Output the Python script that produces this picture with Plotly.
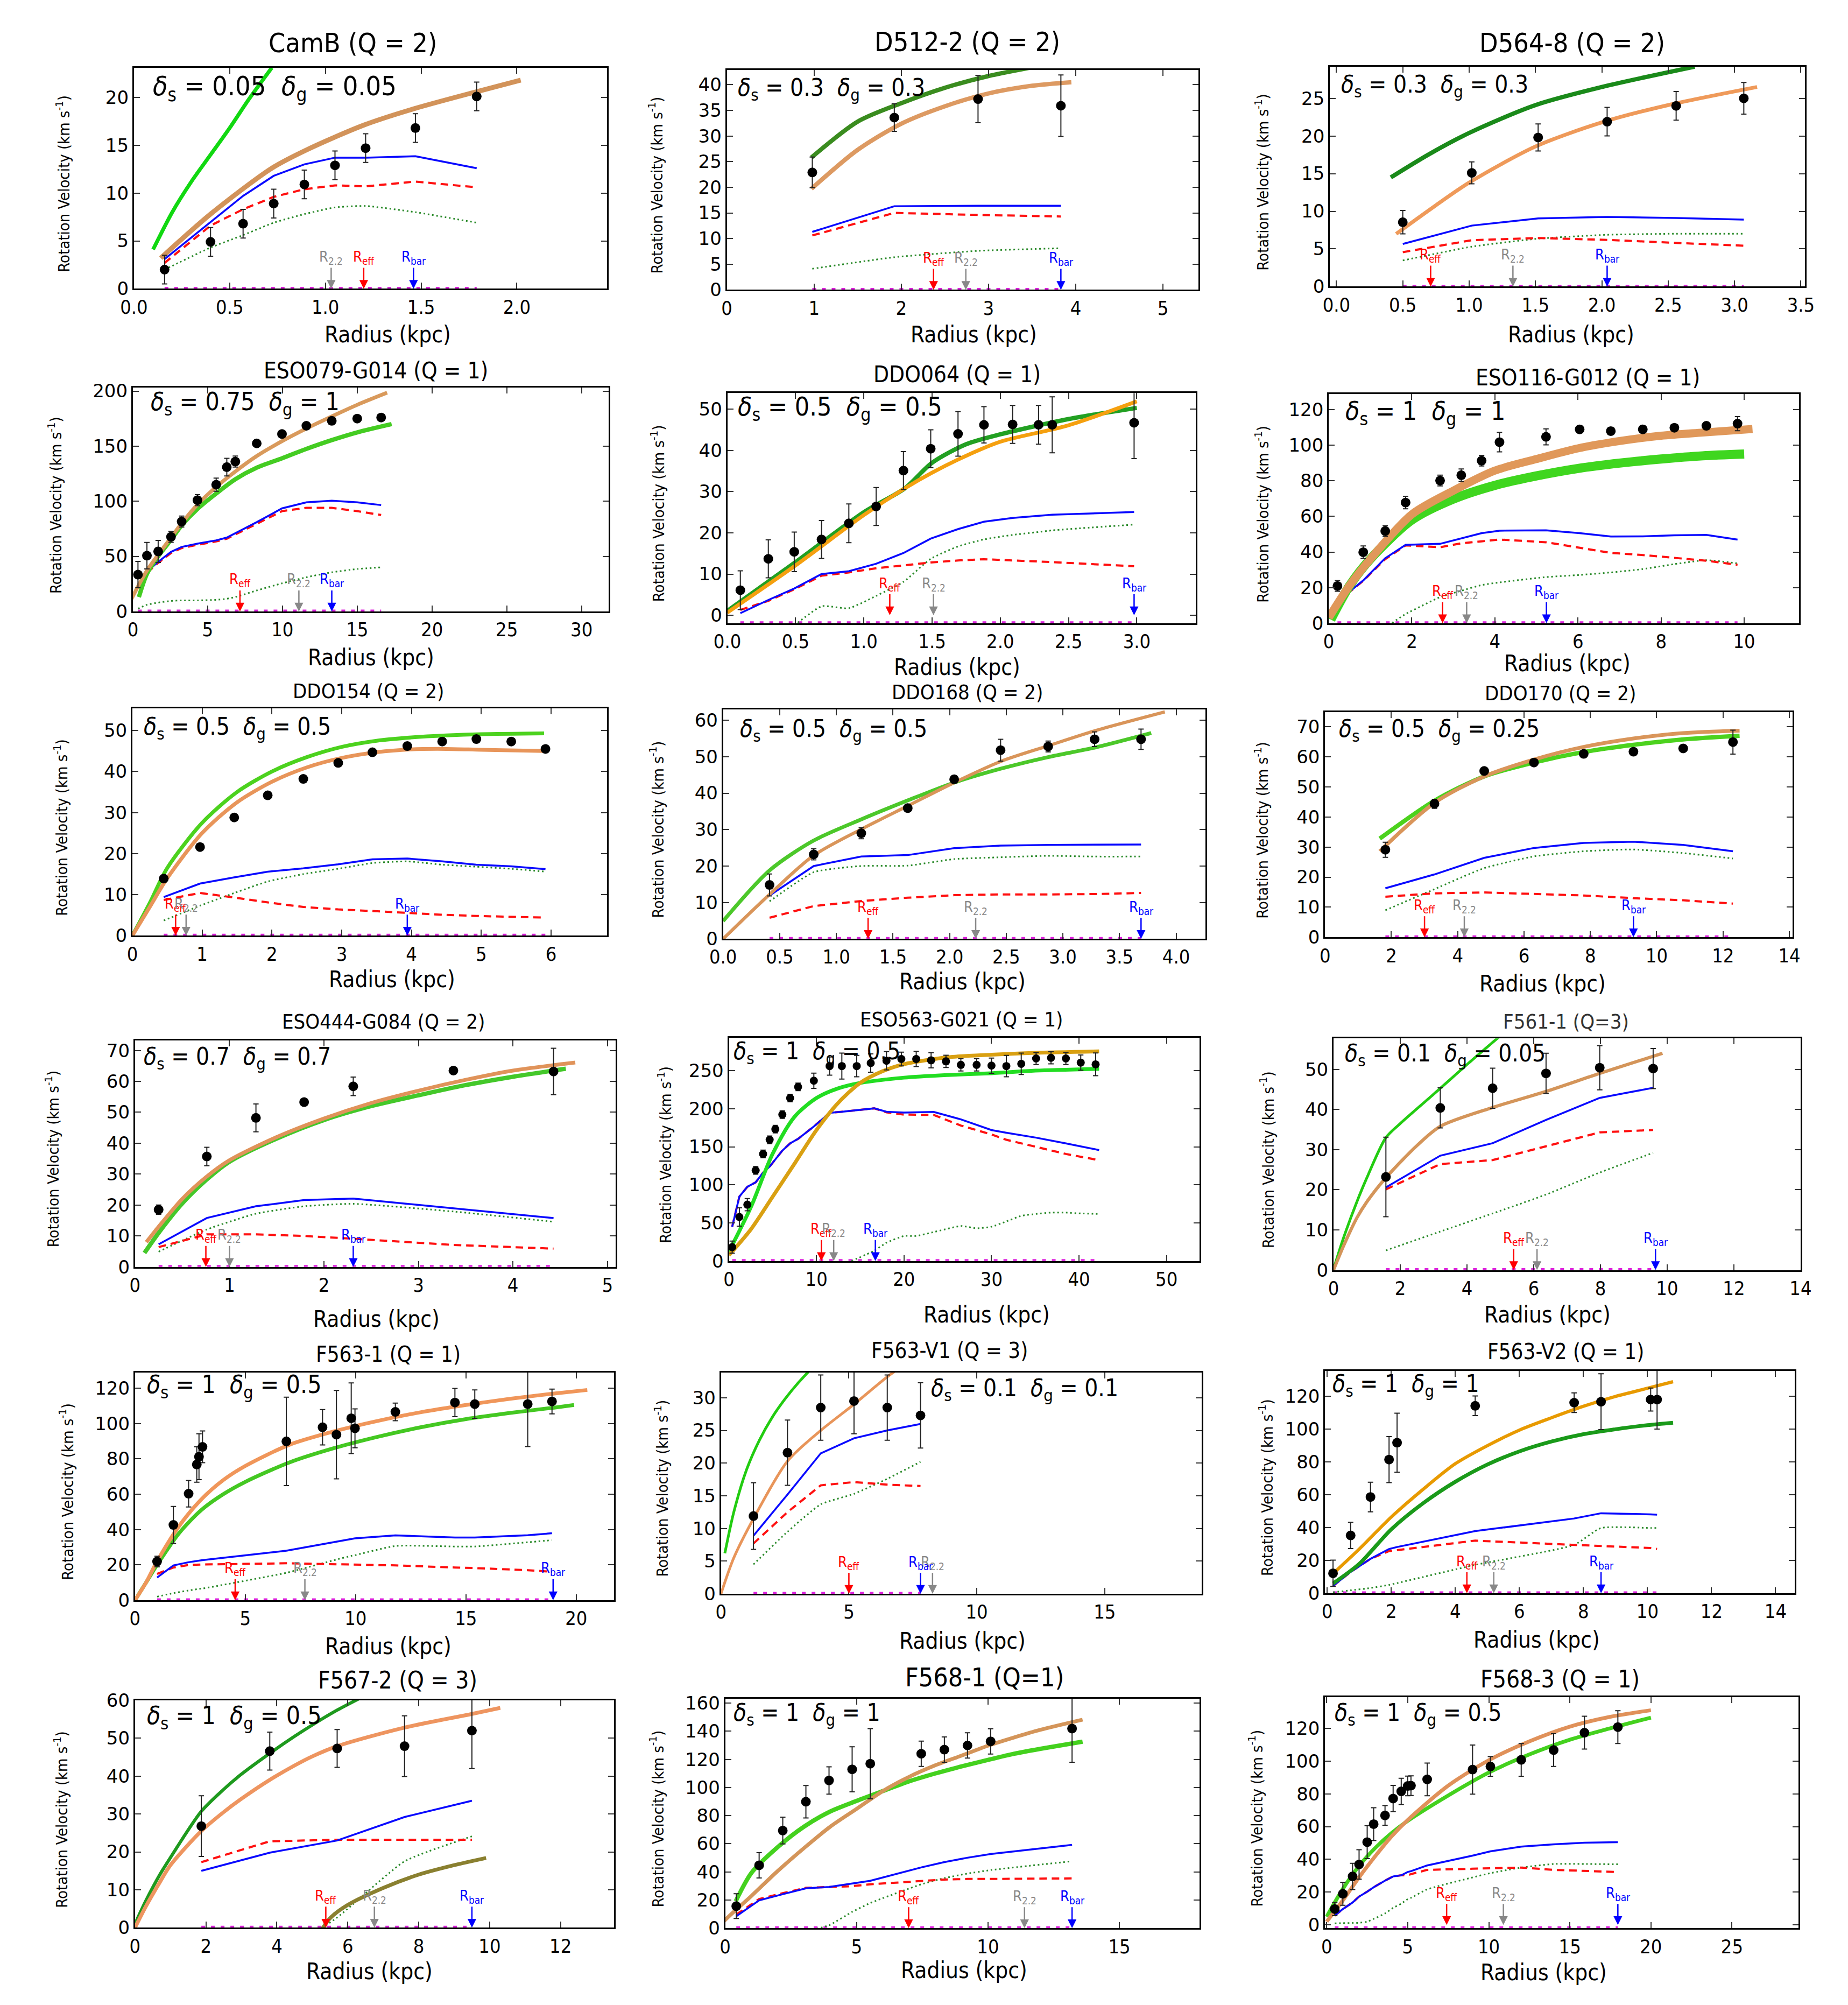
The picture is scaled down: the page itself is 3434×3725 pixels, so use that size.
import plotly.graph_objects as go

W, H = 3434, 3725

# ======================= DATA =======================
# ---- CamB ----
camb_r = [0.16, 0.40, 0.57, 0.73, 0.89, 1.05, 1.21, 1.47, 1.79]
camb_v = [2.0, 4.9, 6.8, 8.9, 10.9, 12.9, 14.7, 16.8, 20.1]
camb_err = [1.5, 1.5, 1.5, 1.5, 1.5, 1.5, 1.5, 1.5, 1.5]
camb_bary = [3.1, 7.0, 9.7, 11.8, 13.0, 13.7, 13.7, 13.85, 12.6]
camb_star = [2.7, 6.6, 8.3, 9.6, 10.4, 10.8, 10.7, 11.2, 10.6]
camb_gas = [2.0, 4.3, 5.6, 6.9, 7.8, 8.5, 8.65, 8.0, 6.9]
camb_fa_r = [0.14, 0.40, 0.72, 0.90, 1.20, 1.46, 1.79, 2.02]
camb_fa_v = [3.2, 7.8, 12.6, 14.5, 17.1, 18.8, 20.6, 21.8]
camb_fb_r = [0.10, 0.20, 0.30, 0.40, 0.50, 0.60, 0.72]
camb_fb_v = [4.1, 8.0, 11.2, 14.0, 16.8, 19.8, 23.1]
camb_marks = [1.20, 1.03, 1.46]          # R_eff, R_2.2, R_bar

# ---- D512-2 ----
d512_r = [0.98, 1.92, 2.88, 3.83]
d512_v = [22.9, 33.6, 37.2, 35.9]
d512_err = [3.0, 2.7, 4.6, 6.0]
d512_bary = [11.3, 16.3, 16.4, 16.4]
d512_star = [10.6, 15.0, 14.6, 14.3]
d512_gas = [4.1, 6.35, 7.6, 8.1]
d512_fa_r = [0.97, 1.5, 2.0, 2.5, 3.0, 3.5, 3.95]
d512_fa_v = [19.7, 27.3, 32.4, 35.8, 38.3, 39.8, 40.5]
d512_fb_r = [0.97, 1.5, 2.0, 2.5, 3.0, 3.5, 3.9]
d512_fb_v = [25.8, 32.8, 36.4, 39.4, 41.7, 43.4, 44.6]
d512_marks = [2.37, 2.74, 3.83]

# ---- D564-8 ----
d564_r = [0.50, 1.02, 1.52, 2.04, 2.56, 3.07]
d564_v = [8.55, 15.1, 19.8, 21.9, 24.0, 25.0]
d564_err = [1.55, 1.45, 1.8, 1.9, 1.9, 2.1]
d564_bary = [5.66, 8.1, 9.05, 9.25, 9.1, 8.9]
d564_star = [4.57, 6.16, 6.45, 6.2, 5.8, 5.43]
d564_gas = [3.47, 5.3, 6.36, 6.88, 7.02, 7.02]
d564_fa_r = [0.45, 0.75, 1.0, 1.5, 2.0, 2.5, 3.17]
d564_fa_v = [7.0, 10.8, 13.8, 18.6, 21.8, 24.1, 26.5]
d564_fb_r = [0.41, 0.7, 1.0, 1.5, 2.0, 2.7]
d564_fb_v = [14.5, 17.6, 20.4, 24.1, 26.5, 29.2]
d564_marks = [0.71, 1.33, 2.04]

# ---- ESO079-G014 ----
eso079_r = [0.34, 0.94, 1.69, 2.55, 3.26, 4.32, 5.57, 6.28, 6.85, 8.28, 9.97, 11.6, 13.3, 15.0, 16.6]
eso079_v = [33.4, 50.6, 54.4, 67.7, 81.5, 101, 115, 131, 136, 152.5, 161, 168.5, 173, 175, 176]
eso079_err = [12, 12, 10, 5, 5, 5, 6, 8, 5, 3, 3, 2, 2, 2, 2]
eso079_mr = [0.94, 1.69, 2.55, 3.26, 4.32, 5.57, 6.28, 6.85, 8.28, 9.97, 11.6, 13.3, 15.0, 16.6]
eso079_bary = [36, 45, 54, 58.5, 61.5, 64.5, 67, 71, 81, 93.5, 99, 100.5, 99, 96.5]
eso079_star = [35, 44, 53, 57.5, 60.5, 63.5, 66, 70, 79.5, 91, 94, 94, 91, 87.5]
eso079_gas = [2.5, 6, 8, 9.5, 10, 10, 10.5, 11.5, 13, 19, 25.5, 31, 35.5, 38.5, 40]
eso079_fa_r = [-0.26, 0.94, 2.55, 3.26, 4.32, 5.57, 6.85, 8.28, 9.97, 11.6, 13.3, 15.0, 17.0]
eso079_fa_v = [7, 37, 67, 80, 97, 113, 127, 141, 154.5, 166, 177, 187.5, 198.5]
eso079_fb_r = [0.4, 0.94, 1.69, 2.55, 3.26, 4.32, 5.57, 6.85, 8.28, 9.97, 11.6, 13.3, 15.0, 17.3]
eso079_fb_v = [13, 34, 50, 65, 78, 93, 107, 120, 130.5, 139, 147.5, 155.5, 162.5, 170]
eso079_marks = [7.16, 11.1, 13.3]

# ---- DDO064 ----
ddo064_r = [0.095, 0.30, 0.49, 0.69, 0.89, 1.09, 1.29, 1.49, 1.69, 1.88, 2.09, 2.28, 2.38, 2.98]
ddo064_v = [6.1, 13.7, 15.4, 18.4, 22.3, 26.4, 35.1, 40.4, 44.0, 46.2, 46.3, 46.2, 46.2, 46.7]
ddo064_err = [4.7, 4.6, 4.8, 4.6, 4.7, 4.6, 4.6, 4.6, 5.4, 4.4, 4.6, 4.7, 6.8, 8.7]
ddo064_bary = [0.5, 3.7, 6.5, 10.0, 10.7, 12.5, 15.1, 18.6, 20.9, 22.7, 23.6, 24.1, 24.4, 25.05]
ddo064_star = [1.3, 3.5, 6.3, 9.6, 10.4, 11.4, 12.1, 12.8, 13.3, 13.6, 13.3, 13.1, 12.9, 11.9]
ddo064_gas = [-4.4, -6.4, -2.4, 2.2, 1.7, 4.7, 8.1, 13.7, 16.7, 18.4, 19.5, 20.2, 20.6, 22.0]
ddo064_fa_r = [0, 0.5, 1.0, 1.3, 1.5, 1.75, 2.0, 2.5, 3.0]
ddo064_fa_v = [0.66, 12.1, 24.3, 30.8, 34.6, 38.7, 42.1, 46.1, 51.9]
ddo064_fb_r = [0, 0.5, 1.0, 1.3, 1.5, 1.75, 2.0, 2.5, 3.0]
ddo064_fb_v = [1.07, 12.9, 25.0, 30.8, 37.0, 41.5, 43.9, 47.6, 50.3]
ddo064_marks = [1.19, 1.51, 2.98]

# ---- ESO116-G012 ----
eso116_r = [0.21, 0.83, 1.36, 1.85, 2.68, 3.19, 3.68, 4.11, 5.23, 6.04, 6.79, 7.56, 8.32, 9.09, 9.84]
eso116_v = [20.9, 39.9, 51.8, 67.8, 80.2, 83.2, 91.4, 101.8, 104.8, 109.0, 108.0, 109.0, 109.9, 111.0, 112.2]
eso116_err = [3, 3.5, 3, 3.5, 3, 3.5, 3, 5.5, 4.5, 2, 2, 2, 2, 2, 4]
eso116_bary = [12.2, 24, 36.5, 44, 44.6, 47.8, 50.6, 52, 52.2, 50.6, 48.7, 48.8, 49.4, 49.6, 47]
eso116_star = [12, 23.8, 36, 43.7, 42.7, 44.9, 46, 47, 45.5, 42.5, 39.5, 38.3, 36.6, 35.1, 32.8]
eso116_gas = [-1.1, -2.6, -2, 5.1, 14.6, 18.2, 21.4, 22.9, 25.9, 27.1, 28.5, 30.4, 33.2, 35.4, 33.6]
eso116_fa_r = [0, 0.5, 1, 2, 3, 4, 5, 6, 7, 8, 9, 10.2]
eso116_fa_v = [3.1, 21.1, 36, 61.2, 74.5, 85.8, 92.3, 98.3, 102.4, 105.4, 107.2, 109.2]
eso116_fb_r = [0.05, 0.5, 1, 2, 3, 4, 5, 6, 7, 8, 9, 10]
eso116_fb_v = [2, 21, 36, 58, 69.8, 77.5, 82.8, 87, 90, 92.3, 94.1, 95.1]
eso116_marks = [2.74, 3.32, 5.24]

# ---- DDO154 ----
ddo154_r = [0.45, 0.97, 1.46, 1.94, 2.45, 2.95, 3.44, 3.94, 4.44, 4.93, 5.43, 5.92]
ddo154_v = [13.9, 21.6, 28.8, 34.2, 38.2, 42.1, 44.7, 46.2, 47.3, 47.9, 47.3, 45.5]
ddo154_err = [0.8, 0.8, 0.8, 0.8, 0.8, 0.8, 0.8, 0.8, 0.8, 0.8, 0.8, 0.8]
ddo154_bary = [9.4, 12.7, 14.2, 15.6, 16.4, 17.4, 18.6, 18.8, 18.1, 17.3, 16.9, 16.2]
ddo154_star = [8.7, 10.4, 9.3, 8.1, 7.0, 6.4, 6.0, 5.5, 5.1, 4.8, 4.6, 4.4]
ddo154_gas = [3.7, 7.3, 10.4, 13.2, 15.0, 16.3, 17.7, 18.1, 17.3, 16.8, 16.3, 15.6]
ddo154_fa_r = [0, 0.25, 0.5, 1.0, 1.5, 2.0, 2.5, 3.0, 3.5, 4.0, 4.5, 5.0, 5.9]
ddo154_fa_v = [0, 7, 14, 25, 32.5, 37.5, 41, 43.3, 44.7, 45.4, 45.5, 45.3, 45.0]
ddo154_fb_r = [0, 0.25, 0.5, 1.0, 1.5, 2.0, 2.5, 3.0, 3.5, 4.0, 4.5, 5.0, 5.9]
ddo154_fb_v = [0, 8, 16.5, 27.5, 35, 40, 43.5, 46, 47.5, 48.3, 48.8, 49.1, 49.3]
ddo154_marks = [0.62, 0.77, 3.94]

# ---- DDO168 ----
ddo168_r = [0.41, 0.80, 1.22, 1.63, 2.04, 2.45, 2.87, 3.28, 3.69]
ddo168_v = [14.8, 23.2, 29.0, 35.9, 43.8, 51.8, 52.8, 54.8, 54.8]
ddo168_err = [3, 1.5, 1.5, 1, 1, 3, 1.5, 2, 2.8]
ddo168_bary = [11.9, 20, 22.6, 23.0, 24.9, 25.6, 25.8, 25.8, 25.9]
ddo168_star = [5.8, 9.0, 10.4, 11.3, 12.0, 12.2, 12.2, 12.3, 12.6]
ddo168_gas = [10.3, 18.3, 20, 20.1, 21.9, 22.4, 22.8, 22.6, 22.6]
ddo168_fa_r = [0, 0.41, 0.8, 1.22, 1.63, 2.04, 2.45, 2.87, 3.28, 3.9]
ddo168_fa_v = [0, 12.2, 22.9, 30.1, 36.5, 42.9, 48.7, 53, 57.1, 62.3]
ddo168_fb_r = [0, 0.41, 0.8, 1.22, 1.63, 2.04, 2.45, 2.87, 3.28, 3.78]
ddo168_fb_v = [4.9, 18.8, 27, 32.8, 38, 42.9, 46.7, 49.9, 52.5, 56.5]
ddo168_marks = [1.28, 2.23, 3.69]

# ---- DDO170 ----
ddo170_r = [1.82, 3.3, 4.8, 6.3, 7.8, 9.3, 10.8, 12.3]
ddo170_v = [29.1, 44.4, 55.3, 58.1, 61.0, 61.7, 62.8, 64.9]
ddo170_err = [2.5, 1.5, 1, 1, 1, 1, 1, 4]
ddo170_bary = [16.3, 20.9, 26.4, 29.7, 31.4, 31.8, 30.7, 28.6]
ddo170_star = [13.5, 14.6, 14.9, 14.4, 13.9, 13.0, 12.3, 11.2]
ddo170_gas = [9.0, 16, 23, 26.9, 28.6, 29.2, 28, 26.2]
ddo170_fa_r = [1.65, 3.3, 4.8, 6.3, 7.8, 9.3, 10.8, 12.5]
ddo170_fa_v = [28.6, 44.7, 53.5, 59.1, 63.3, 66.1, 67.9, 68.7]
ddo170_fb_r = [1.65, 3.3, 4.8, 6.3, 7.8, 9.3, 10.8, 12.5]
ddo170_fb_v = [32.8, 45.4, 53.5, 58.1, 61.6, 64, 65.8, 67.0]
ddo170_marks = [3.0, 4.2, 9.3]

# ---- ESO444-G084 ----
eso444_r = [0.25, 0.76, 1.28, 1.79, 2.31, 3.37, 4.43]
eso444_v = [18.5, 35.7, 48.2, 53.3, 58.4, 63.5, 63.2]
eso444_err = [1.5, 3, 4.5, 1, 3, 1, 7.5]
eso444_bary = [7.3, 15.8, 19.6, 21.6, 22.1, 18.9, 15.8]
eso444_star = [6.4, 10.5, 10.5, 10.0, 9.1, 7.1, 5.9]
eso444_gas = [4.9, 12.1, 17.2, 19.6, 20.4, 17.9, 14.6]
eso444_fa_r = [0.12, 0.25, 0.5, 0.75, 1.0, 1.5, 2.0, 2.5, 3.0, 3.5, 4.0, 4.66]
eso444_fa_v = [8, 13, 22, 29, 34.5, 42, 48, 53, 57, 60.5, 63.5, 66.1]
eso444_fb_r = [0.1, 0.25, 0.5, 0.75, 1.0, 1.5, 2.0, 2.5, 3.0, 3.5, 4.0, 4.56]
eso444_fb_v = [4.5, 11, 20.5, 28, 34, 41.5, 47.5, 52, 55.5, 58.8, 61.5, 64.1]
eso444_marks = [0.75, 1.0, 2.31]

# ---- ESO563-G021 ----
eso563_r = [0.37, 1.19, 2.1, 3.05, 3.9, 4.65, 5.3, 6.1, 6.99, 7.9, 9.7, 11.5, 12.9, 14.6, 16.2,
            18.0, 19.7, 21.4, 23.1, 24.8, 26.5, 28.3, 30.0, 31.7, 33.4, 35.1, 36.8, 38.5, 40.2, 41.9]
eso563_v = [18.2, 57.8, 74, 119, 140.6, 159.2, 173.2, 192.3, 214, 228.7, 236.8, 256, 256, 256, 260,
            263, 265.3, 265.3, 263.6, 262.2, 257.6, 257.6, 256.6, 256, 259, 266, 266.9, 266, 260.6, 258.3]
eso563_err = [8, 12, 8, 5, 5, 5, 5, 5, 5, 5, 10, 12, 17, 14, 12,
              12, 9, 10, 10, 8, 8, 8, 10, 14, 14, 8, 8, 8, 10, 15]
eso563_mr = [0.37, 1.19, 2.1, 3.05, 3.9, 4.65, 6.1, 6.99, 7.9, 9.7, 11.5, 12.9, 16.6, 18.0, 20.0,
             23.4, 26.5, 30.0, 31.7, 35.1, 38.5, 42.3]
eso563_bary = [45, 84.6, 97.4, 103.3, 116, 124, 145, 154.5, 160.4, 176.7, 194.6, 196, 200.5, 196, 195,
               195.8, 186, 172, 168.5, 162, 154.5, 145.7]
eso563_star = [45, 84.6, 97.4, 103.3, 116, 124, 145, 154.5, 160.4, 176.7, 194.6, 196, 200.5, 195.3, 192.3,
               191.8, 177.9, 166.2, 159.2, 149.9, 140.6, 132.4]
eso563_gr = [14.0, 16.6, 18.0, 20.0, 21.4, 23.4, 26.5, 28.3, 30.0, 31.7, 33.4, 35.1, 36.8, 38.5, 40.2, 42.3]
eso563_gas = [0, 13.5, 24, 32.9, 32.9, 38, 46, 43, 45, 52, 59.4, 61.8, 63.6, 63.6, 62.5, 61.8]
eso563_fa_r = [0, 2.5, 5, 7.5, 10, 12.5, 15, 17.5, 20, 25, 30, 35, 42.3]
eso563_fa_v = [7.7, 41.5, 84.6, 128, 172, 208, 234, 249, 258.5, 267.6, 271, 273.4, 275.3]
eso563_fb_r = [0, 2.5, 5, 7.5, 10, 12.5, 15, 20, 25, 30, 35, 42.3]
eso563_fb_v = [12.4, 70.6, 141, 189.5, 214, 226.8, 233.8, 240.8, 244.3, 246.6, 250, 252.4]
eso563_marks = [10.56, 11.97, 16.73]

# ---- F561-1 ----
f561_r = [1.57, 3.2, 4.77, 6.37, 7.98, 9.58]
f561_v = [23.2, 40.4, 45.3, 49.0, 50.4, 50.2]
f561_err = [9.9, 5, 5, 5, 5.5, 5]
f561_bary = [20.6, 28.5, 31.6, 37.4, 42.9, 45.4]
f561_star = [20.1, 26.4, 27.4, 30.9, 34.3, 34.9]
f561_gas = [4.9, 9.6, 14.1, 18.8, 24.3, 29.2]
f561_fa_r = [0, 0.3, 0.7, 1.0, 1.57, 2.5, 3.2, 4.77, 6.37, 7.98, 9.86]
f561_fa_v = [0, 6, 13, 17, 23, 31, 35.8, 40.5, 44.5, 49, 54]
f561_fb_r = [0, 0.3, 0.7, 1.0, 1.57, 2.0, 3.0, 4.0, 4.95]
f561_fb_v = [0.2, 8, 17, 23, 33, 36.5, 43.8, 51.2, 58]
f561_marks = [5.4, 6.1, 9.65]

# ---- F563-1 ----
f5631_r = [1.0, 1.74, 2.43, 2.8, 2.9, 3.06, 6.86, 8.5, 9.13, 9.8, 9.97, 11.8, 14.5, 15.4, 17.8, 18.9]
f5631_v = [21.9, 42.6, 60.3, 76.8, 81.2, 86.8, 89.9, 97.9, 93.7, 103, 97.3, 106.6, 111.9, 111, 111, 112.5]
f5631_err = [3, 10.5, 7.5, 10, 13, 9, 25, 10, 25, 20, 11, 5, 8, 8, 24, 7]
f5631_bary = [12.8, 19.7, 21.5, 22.2, 22.4, 22.7, 28, 31.6, 33, 34.6, 35, 36.7, 35.5, 35.5, 36.8, 37.9]
f5631_star = [14.9, 18.5, 19.9, 20.1, 20.1, 20.2, 20.9, 20.5, 20.4, 20.3, 20.2, 19.7, 18.5, 18.2, 17, 16.1]
f5631_gas = [2, 4, 5.5, 6.2, 6.4, 6.6, 15.5, 20.9, 23, 25.1, 25.5, 30.7, 30.4, 30.4, 32.8, 34]
f5631_fa_r = [0, 0.5, 1, 2, 3, 4, 5, 7, 9, 11, 13, 15, 17, 19, 20.5]
f5631_fa_v = [0, 10, 22, 42, 57, 68, 76, 88, 95.5, 101.5, 106.5, 110.5, 114, 117, 119]
f5631_fb_r = [0, 0.5, 1, 2, 3, 4, 5, 7, 9, 11, 13, 15, 17, 19, 19.9]
f5631_fb_v = [0, 10, 20, 38, 51, 60, 67, 78, 86, 92.5, 98, 102.5, 106, 109, 110.5]
f5631_marks = [4.54, 7.7, 18.95]

# ---- F563-V1 ----
f563v1_r = [1.27, 2.6, 3.9, 5.2, 6.5, 7.8]
f563v1_v = [11.9, 21.6, 28.5, 29.5, 28.5, 27.3]
f563v1_err = [5.1, 5, 5, 5, 5, 5]
f563v1_bary = [8.9, 15.2, 21.5, 23.8, 25, 26.0]
f563v1_star = [7.7, 12.5, 16.6, 17.1, 16.7, 16.5]
f563v1_gas = [4.5, 9.5, 13.7, 15.3, 17.6, 20.2]
f563v1_fa_r = [0, 0.5, 1.27, 2.6, 3.9, 5.2, 6.5, 7.6]
f563v1_fa_v = [0, 5.5, 11.5, 20.3, 25, 29, 33.2, 36.3]
f563v1_fb_r = [0.15, 0.5, 1.0, 1.5, 2.0, 2.5, 3.0, 4.0]
f563v1_fb_v = [6.2, 12.5, 19, 23.5, 27, 29.8, 32.2, 36.4]
f563v1_marks = [5.0, 8.27, 7.8]

# ---- F563-V2 ----
f563v2_r = [0.18, 0.73, 1.35, 1.93, 2.18, 4.62, 7.71, 8.55, 10.1, 10.3]
f563v2_v = [12.2, 35.3, 58.7, 81.5, 91.8, 114.3, 116.2, 116.8, 118.1, 118.1]
f563v2_err = [8, 8, 9, 14, 18, 6, 6, 17, 7, 18]
f563v2_bary = [4.5, 13, 21, 27, 28.2, 37.9, 45.6, 48.8, 48.1, 47.9]
f563v2_star = [4.5, 13, 21, 25.7, 26.3, 32.1, 29.5, 28.9, 27.6, 27]
f563v2_gas = [0.6, 1.8, 3.2, 5.1, 6.2, 17.3, 29.5, 39.8, 39.8, 39.8]
f563v2_fa_r = [0.18, 1, 2, 3, 4, 5, 6, 7, 8, 9, 10, 10.8]
f563v2_fa_v = [12, 27, 46.5, 63.5, 79, 90, 99.5, 107, 114, 120, 125, 129]
f563v2_fb_r = [0.18, 1, 2, 3, 4, 5, 6, 7, 8, 9, 10, 10.8]
f563v2_fb_v = [6, 18, 39, 55, 68, 78.5, 86.5, 92.5, 97, 100, 102.5, 104]
f563v2_marks = [4.36, 5.2, 8.55]

# ---- F567-2 ----
f567_r = [1.87, 3.8, 5.7, 7.6, 9.5]
f567_v = [26.8, 46.6, 47.3, 47.9, 52]
f567_err = [8, 5, 5, 8, 10]
f567_bary = [15, 19.8, 23, 29.2, 33.5]
f567_star = [17.3, 22.8, 23.2, 23.2, 23.2]
f567_gas = [-14, -9, 2.7, 17.5, 24.1]
f567_fa_r = [0, 0.3, 0.7, 1.0, 1.87, 2.5, 3.0, 3.8, 4.5, 5.0, 5.7, 7.6, 9.5, 10.3]
f567_fa_v = [0, 5.5, 12, 16.5, 25.5, 30.5, 34, 39, 42.8, 45.2, 47.9, 52.8, 56.4, 58.0]
f567_fb_r = [0, 0.3, 0.7, 1.0, 1.87, 2.5, 3.0, 3.8, 4.5, 5.0, 5.7, 6.75]
f567_fb_v = [1, 7, 14, 18.5, 30.7, 36.5, 40.5, 46, 50.5, 53.5, 57.4, 62.5]
f567_fc_r = [5.2, 5.5, 6.0, 7.0, 8.0, 9.0, 9.9]
f567_fc_v = [-1.5, 2.5, 6, 10.5, 14, 16.5, 18.4]
f567_marks = [5.38, 6.75, 9.5]

# ---- F568-1 ----
f5681_r = [0.42, 1.29, 2.19, 3.07, 3.95, 4.83, 5.52, 7.46, 8.34, 9.22, 10.1, 13.2]
f5681_v = [15.7, 44.7, 69.4, 89.9, 105, 112.9, 116.9, 124, 126.9, 129.9, 132.8, 141.9]
f5681_err = [8.8, 9, 9.5, 11.5, 9.7, 16, 25, 9, 9, 9, 9, 24]
f5681_bary = [8.5, 19.8, 24.2, 28.3, 29.3, 31.6, 33.7, 43.2, 47, 50.1, 52.7, 59.2]
f5681_star = [9.7, 20.7, 24.9, 28.7, 29.3, 29.9, 31.2, 33.7, 34.6, 35, 35, 35.4]
f5681_gas = [-2, -4.8, -6.3, -2.3, 2.1, 11.6, 17.9, 31.2, 35.6, 38.8, 41.3, 47.6]
f5681_fa_r = [-0.5, 0, 1, 2, 3, 4, 5, 6, 7, 8, 9, 10, 11, 12, 13.6]
f5681_fa_v = [-4.8, 5.9, 23, 40.7, 57, 72.2, 84.8, 97.5, 107.6, 115.8, 122.7, 129.7, 135.6, 141, 148.2]
f5681_fb_r = [0.4, 1, 2, 3, 4, 5, 6, 7, 8, 9, 10, 11, 12, 13.6]
f5681_fb_v = [19.2, 39.4, 57.7, 72.2, 83, 90.5, 97.5, 104.4, 110, 115, 119.6, 124, 127.5, 132.6]
f5681_marks = [6.98, 11.39, 13.2]

# ---- F568-3 ----
f5683_r = [0.5, 1.0, 1.6, 2.0, 2.5, 2.9, 3.6, 4.1, 4.6, 5.0, 5.2, 6.2, 9.0, 10.1, 12.0, 14.0, 15.9, 17.96]
f5683_v = [9.7, 19, 29.6, 36.9, 50.5, 61.5, 66.8, 77.1, 81.5, 84.8, 85, 88.8, 94.8, 96.7, 100.7, 106.7, 117.3, 120.7]
f5683_err = [4, 7, 8, 9, 10, 10, 6, 8, 8, 6, 6, 10, 15, 6, 10, 10, 10, 10]
f5683_bary = [5.7, 9.7, 13.7, 17.3, 20.3, 23, 27, 29.6, 30.3, 32.3, 32.8, 36.3, 42.3, 44.9, 47.8, 49.2, 50.2, 50.5]
f5683_star = [5.7, 9.7, 13.7, 17.3, 20.3, 23, 27, 29.6, 30.3, 30.3, 31, 33.6, 34.3, 34.6, 35, 33.6, 33, 32.3]
f5683_gas = [1, 1.1, 1.2, 1.3, 2, 3.7, 7, 10.4, 13, 15.7, 16.5, 21.7, 29, 31.6, 35, 37.2, 37.2, 37]
f5683_fa_r = [0, 1, 2, 3, 4, 5, 7.5, 10, 12.5, 15, 17.5, 20]
f5683_fa_v = [2, 15, 29, 42, 54, 64, 85, 100.5, 112, 121, 127, 131]
f5683_fb_r = [0, 1, 2, 3, 4, 5, 7.5, 10, 12.5, 15, 17.5, 20]
f5683_fb_v = [5, 22, 36, 47, 56, 63.5, 79, 93, 104, 113, 120, 126.5]
f5683_marks = [7.4, 10.9, 17.96]

# panel titles and delta values
titles = ["CamB (Q = 2)", "D512-2 (Q = 2)", "D564-8 (Q = 2)",
          "ESO079-G014 (Q = 1)", "DDO064 (Q = 1)", "ESO116-G012 (Q = 1)",
          "DDO154 (Q = 2)", "DDO168 (Q = 2)", "DDO170 (Q = 2)",
          "ESO444-G084 (Q = 2)", "ESO563-G021 (Q = 1)", "F561-1 (Q=3)",
          "F563-1 (Q = 1)", "F563-V1 (Q = 3)", "F563-V2 (Q = 1)",
          "F567-2 (Q = 3)", "F568-1 (Q=1)", "F568-3 (Q = 1)"]
delta_s = ["0.05", "0.3", "0.3", "0.75", "0.5", "1", "0.5", "0.5", "0.5",
           "0.7", "1", "0.1", "1", "0.1", "1", "1", "1", "1"]
delta_g = ["0.05", "0.3", "0.3", "1", "0.5", "1", "0.5", "0.5", "0.25",
           "0.7", "0.5", "0.05", "0.5", "0.1", "1", "0.5", "1", "0.5"]
keys = ["camb", "d512", "d564", "eso079", "ddo064", "eso116", "ddo154", "ddo168", "ddo170",
        "eso444", "eso563", "f561", "f5631", "f563v1", "f563v2", "f567", "f5681", "f5683"]

# ======================= LAYOUT / STYLE (pixels of the 3434x3725 page) =======================
# box = (left, right, top, bottom)
LAY = [
    dict(box=(226, 1117, 107, 522), xr=(0, 2.47), yr=(0, 23.1), dx=0.5, fx=".1f", dy=5,
         tp=(638, 61), ts=50, dp=(260, 145), ds=50, xt=(704, 608), yt=92, ca="#d2935a", wa=9, cb="#11d811", wb=7),
    dict(box=(1343, 2232, 111, 524), xr=(0, 5.41), yr=(0, 42.9), dx=1, fx="d", dy=5,
         tp=(1796, 59), ts=50, dp=(1362, 147), ds=44, xt=(1808, 608), yt=1209, ca="#dd9a62", wa=8, cb="#3a8c1f", wb=8),
    dict(box=(2479, 3374, 105, 518), xr=(-0.05, 3.53), yr=(0, 29.2), dx=0.5, fx=".1f", dy=5,
         tp=(2936, 61), ts=50, dp=(2498, 141), ds=44, xt=(2934, 608), yt=2351, ca="#ef9a5a", wa=7, cb="#1a8a1a", wb=8),
    dict(box=(224, 1120, 708, 1128), xr=(0, 31.8), yr=(0, 203), dx=5, fx="d", dy=50,
         tp=(682, 676), ts=42, dp=(256, 737), ds=46, xt=(673, 1215), yt=77, ca="#d99a5c", wa=7, cb="#44cc22", wb=8),
    dict(box=(1344, 2226, 718, 1150), xr=(0, 3.43), yr=(-1.9, 53.9), dx=0.5, fx=".1f", dy=10,
         tp=(1777, 683), ts=42, dp=(1362, 747), ds=48, xt=(1777, 1233), yt=1212, ca="#f5a00f", wa=7, cb="#22a022", wb=8),
    dict(box=(2477, 3363, 720, 1150), xr=(0, 11.32), yr=(0, 128.8), dx=2, fx="d", dy=20,
         tp=(2965, 689), ts=42, dp=(2506, 755), ds=48, xt=(2927, 1226), yt=2351, ca="#e0985a", wa=15, cb="#3fd61f", wb=17),
    dict(box=(223, 1117, 1310, 1737), xr=(0, 6.8), yr=(0, 55.4), dx=1, fx="d", dy=10,
         tp=(668, 1278), ts=38, dp=(242, 1347), ds=44, xt=(712, 1819), yt=88, ca="#e8955a", wa=7, cb="#4cd21e", wb=7),
    dict(box=(1336, 2245, 1312, 1743), xr=(0, 4.26), yr=(0, 63), dx=0.5, fx=".1f", dy=10,
         tp=(1796, 1280), ts=38, dp=(1366, 1351), ds=44, xt=(1787, 1823), yt=1211, ca="#d9955a", wa=6, cb="#4cc82a", wb=7),
    dict(box=(2470, 3351, 1317, 1740), xr=(0, 14.1), yr=(0, 74.9), dx=2, fx="d", dy=10,
         tp=(2913, 1282), ts=38, dp=(2494, 1351), ds=44, xt=(2880, 1827), yt=2350, ca="#d9955a", wa=7, cb="#4cd21e", wb=8),
    dict(box=(228, 1134, 1934, 2359), xr=(0, 5.09), yr=(0, 73.2), dx=1, fx="d", dy=10,
         tp=(696, 1898), ts=38, dp=(242, 1967), ds=44, xt=(683, 2457), yt=72, ca="#e0935a", wa=7, cb="#44c82a", wb=8),
    dict(box=(1347, 2234, 1929, 2348), xr=(0, 53.8), yr=(0, 293), dx=10, fx="d", dy=50,
         tp=(1785, 1894), ts=38, dp=(1354, 1957), ds=44, xt=(1833, 2449), yt=1226, ca="#d9a012", wa=7, cb="#22dd22", wb=7),
    dict(box=(2486, 3366, 1930, 2365), xr=(0, 14.0), yr=(0, 57.7), dx=2, fx="d", dy=10,
         tp=(2924, 1898), ts=38, dp=(2505, 1961), ds=44, xt=(2889, 2449), yt=2361, ca="#d4955a", wa=6, cb="#22cc11", wb=5),
    dict(box=(228, 1130, 2557, 2985), xr=(0, 21.7), yr=(0, 129), dx=5, fx="d", dy=20,
         tp=(705, 2523), ts=40, dp=(248, 2583), ds=46, xt=(705, 3071), yt=99, ca="#f0965a", wa=7, cb="#44c822", wb=7),
    dict(box=(1332, 2238, 2557, 2973), xr=(0, 18.8), yr=(0, 33.9), dx=5, fx="d", dy=5,
         tp=(1763, 2516), ts=40, dp=(1726, 2589), ds=44, xt=(1787, 3061), yt=1220, ca="#e8955a", wa=5, cb="#22cc11", wb=5),
    dict(box=(2470, 3355, 2554, 2972), xr=(-0.07, 14.6), yr=(0, 135.7), dx=2, fx="d", dy=20,
         tp=(2924, 2518), ts=40, dp=(2482, 2581), ds=44, xt=(2869, 3059), yt=2359, ca="#e89a00", wa=6, cb="#1a9a1a", wb=7),
    dict(box=(228, 1130, 3173, 3600), xr=(0, 13.5), yr=(0, 60), dx=2, fx="d", dy=10,
         tp=(723, 3135), ts=44, dp=(248, 3205), ds=46, xt=(670, 3682), yt=88, ca="#ee9560", wa=7, cb="#1e9a1e", wb=6),
    dict(box=(1340, 2234, 3170, 3601), xr=(0, 18.06), yr=(0, 163.1), dx=5, fx="d", dy=20,
         tp=(1829, 3130), ts=48, dp=(1354, 3199), ds=44, xt=(1790, 3680), yt=1211, ca="#d4955a", wa=7, cb="#44d11e", wb=8),
    dict(box=(2470, 3362, 3167, 3601), xr=(-0.1, 29.1), yr=(-2, 139), dx=5, fx="d", dy=20,
         tp=(2913, 3133), ts=44, dp=(2486, 3199), ds=44, xt=(2882, 3684), yt=2339, ca="#e0915a", wa=7, cb="#44d11e", wb=7),
]

FONT = "DejaVu Sans Condensed, DejaVu Sans, sans-serif"
G = globals()


def px(x):
    return x / W


def py(y):
    return 1 - y / H


fig = go.Figure()
annotations = []
layout_axes = {}

for i, (k, L) in enumerate(zip(keys, LAY), start=1):
    xa = "x" if i == 1 else f"x{i}"
    ya = "y" if i == 1 else f"y{i}"
    r, v, e = G[k + "_r"], G[k + "_v"], G[k + "_err"]
    mr = G.get(k + "_mr", r)
    gr = G.get(k + "_gr", r)
    base = L["yr"][0]
    tip = max(0, base)

    # magenta dotted baseline along the data range
    fig.add_trace(go.Scatter(x=[r[0], r[-1]], y=[base, base], mode="lines", xaxis=xa, yaxis=ya,
                             line=dict(color="#dd22dd", width=7, dash="7px,11px"),
                             showlegend=False, hoverinfo="skip"))
    # gas (green dotted)
    fig.add_trace(go.Scatter(x=gr, y=G[k + "_gas"], mode="lines", xaxis=xa, yaxis=ya,
                             line=dict(color="#2a8a2a", width=3, dash="3px,5px", shape="spline", smoothing=0.5),
                             showlegend=False))
    # stars (red dashed)
    fig.add_trace(go.Scatter(x=mr, y=G[k + "_star"], mode="lines", xaxis=xa, yaxis=ya,
                             line=dict(color="#ff1010", width=4, dash="14px,9px"), showlegend=False))
    # total baryons (blue)
    fig.add_trace(go.Scatter(x=mr, y=G[k + "_bary"], mode="lines", xaxis=xa, yaxis=ya,
                             line=dict(color="#0a0aff", width=3.5), showlegend=False))
    # green fit
    fig.add_trace(go.Scatter(x=G[k + "_fb_r"], y=G[k + "_fb_v"], mode="lines", xaxis=xa, yaxis=ya,
                             line=dict(color=L["cb"], width=L["wb"], shape="spline", smoothing=0.8),
                             showlegend=False))
    # extra olive curve (F567-2)
    if k + "_fc_r" in G:
        fig.add_trace(go.Scatter(x=G[k + "_fc_r"], y=G[k + "_fc_v"], mode="lines", xaxis=xa, yaxis=ya,
                                 line=dict(color="#8a8030", width=7, shape="spline", smoothing=0.8),
                                 showlegend=False))
    # orange fit
    fig.add_trace(go.Scatter(x=G[k + "_fa_r"], y=G[k + "_fa_v"], mode="lines", xaxis=xa, yaxis=ya,
                             line=dict(color=L["ca"], width=L["wa"], shape="spline", smoothing=0.8),
                             showlegend=False))
    # observed rotation curve
    fig.add_trace(go.Scatter(x=r, y=v, mode="markers", xaxis=xa, yaxis=ya,
                             marker=dict(color="black", size=15 if k == "eso563" else 18),
                             error_y=dict(type="data", array=e, color="#222222", thickness=2, width=5),
                             showlegend=False))

    x0, x1, yt0, yb0 = L["box"]
    axis_common = dict(showline=True, linecolor="black", linewidth=3, mirror="allticks",
                       ticks="inside", ticklen=11, tickwidth=2, tickcolor="#333",
                       showgrid=False, zeroline=False, tick0=0)
    layout_axes["xaxis" if i == 1 else f"xaxis{i}"] = dict(
        domain=[px(x0), px(x1)], range=list(L["xr"]), anchor=ya, dtick=L["dx"],
        tickformat=L["fx"], tickfont=dict(family=FONT, size=36, color="black"), **axis_common)
    layout_axes["yaxis" if i == 1 else f"yaxis{i}"] = dict(
        domain=[py(yb0), py(yt0)], range=list(L["yr"]), anchor=xa, dtick=L["dy"],
        tickfont=dict(family="DejaVu Sans, sans-serif", size=34, color="black"), **axis_common)

    # title
    annotations.append(dict(text=titles[i - 1], x=px(L["tp"][0]), y=py(L["tp"][1]), xref="paper", yref="paper",
                            showarrow=False, xanchor="center", yanchor="middle",
                            font=dict(family=FONT, size=L["ts"], color="#333" if k == "f561" else "black")))
    # delta annotation
    annotations.append(dict(
        text=f"<i>δ</i><sub>s</sub> = {delta_s[i - 1]}  <i>δ</i><sub>g</sub> = {delta_g[i - 1]}",
        x=px(L["dp"][0]), y=py(L["dp"][1]), xref="paper", yref="paper", showarrow=False,
        xanchor="left", yanchor="middle", font=dict(family=FONT, size=L["ds"], color="black")))
    # axis titles
    annotations.append(dict(text="Radius (kpc)", x=px(L["xt"][0]), y=py(L["xt"][1]), xref="paper", yref="paper",
                            showarrow=False, xanchor="center", yanchor="middle",
                            font=dict(family=FONT, size=42, color="black")))
    annotations.append(dict(text="Rotation Velocity (km s<sup>-1</sup>)", x=px(L["yt"]),
                            y=py((yt0 + yb0) / 2 + 10), xref="paper", yref="paper", showarrow=False,
                            textangle=-90, xanchor="center", yanchor="middle",
                            font=dict(family=FONT, size=29, color="black")))
    # radius markers
    for m, lab, col in zip(G[k + "_marks"], ["R<sub>eff</sub>", "R<sub>2.2</sub>", "R<sub>bar</sub>"],
                           ["#ff0000", "#888888", "#0000ff"]):
        annotations.append(dict(text=lab, x=m, y=tip, xref=xa, yref=ya, showarrow=True,
                                ax=0, ay=-58, arrowhead=2, arrowsize=1.3, arrowwidth=2.5,
                                arrowcolor=col, font=dict(family=FONT, size=27, color=col)))

fig.update_layout(width=W, height=H, margin=dict(l=0, r=0, t=0, b=0),
                  paper_bgcolor="white", plot_bgcolor="white",
                  annotations=annotations, showlegend=False, **layout_axes)

fig.write_html("out.html")
